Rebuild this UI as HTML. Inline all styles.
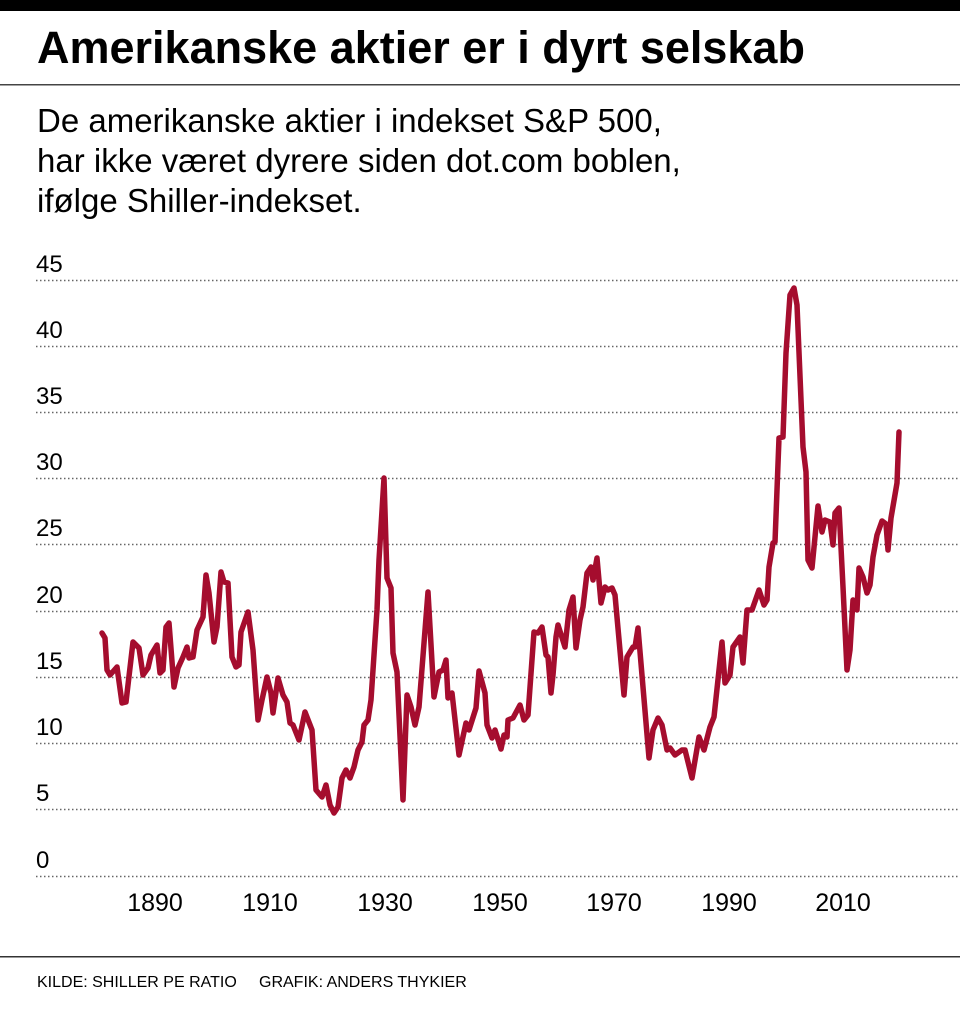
<!DOCTYPE html>
<html><head><meta charset="utf-8"><style>
body{margin:0;width:960px;height:1004px;background:#fff;overflow:hidden;font-family:"Liberation Sans",sans-serif}
</style></head><body>
<svg width="960" height="1004" xmlns="http://www.w3.org/2000/svg" font-family="Liberation Sans, sans-serif">
<rect x="0" y="0" width="960" height="11" fill="#000"/>
<text x="37" y="63" font-size="45" font-weight="bold" fill="#000">Amerikanske aktier er i dyrt selskab</text>
<rect x="0" y="84" width="960" height="1.5" fill="#444"/>
<g font-size="33" fill="#000">
<text x="37" y="132">De amerikanske aktier i indekset S&amp;P 500,</text>
<text x="37" y="172">har ikke været dyrere siden dot.com boblen,</text>
<text x="37" y="212">ifølge Shiller-indekset.</text>
</g>
<g stroke="#666" stroke-width="1.5" stroke-dasharray="1.5 2.5">
<line x1="36" x2="960" y1="280.5" y2="280.5"/>
<line x1="36" x2="960" y1="346.5" y2="346.5"/>
<line x1="36" x2="960" y1="412.5" y2="412.5"/>
<line x1="36" x2="960" y1="478.5" y2="478.5"/>
<line x1="36" x2="960" y1="544.5" y2="544.5"/>
<line x1="36" x2="960" y1="611.5" y2="611.5"/>
<line x1="36" x2="960" y1="677.5" y2="677.5"/>
<line x1="36" x2="960" y1="743.5" y2="743.5"/>
<line x1="36" x2="960" y1="809.5" y2="809.5"/>
<line x1="36" x2="960" y1="876.5" y2="876.5"/>
</g>
<g font-size="24" fill="#000">
<text x="36" y="272">45</text><text x="36" y="338">40</text><text x="36" y="404">35</text>
<text x="36" y="470">30</text><text x="36" y="536">25</text><text x="36" y="603">20</text>
<text x="36" y="669">15</text><text x="36" y="735">10</text><text x="36" y="801">5</text>
<text x="36" y="868">0</text>
</g>
<g font-size="25" fill="#000" text-anchor="middle">
<text x="155" y="911">1890</text><text x="270" y="911">1910</text><text x="385" y="911">1930</text>
<text x="500" y="911">1950</text><text x="614" y="911">1970</text><text x="729" y="911">1990</text>
<text x="843" y="911">2010</text>
</g>
<polyline fill="none" stroke="#a50d2e" stroke-width="5.5" stroke-linejoin="round" stroke-linecap="round" points="
102,633 105,638 107,670 110,675 117,667 122,703 126,702 133,642 139,648 143,675 148,668 151,655 157,645 160,673 163,670 166,627 169,623 174,687 178,668 183,657 187,647 189,658 193,657 197,630 203,617 206,575 209,593 214,642 217,627 221,572 224,582 228,583 232,657 236,667 239,665 241,632 248,612 253,650 258,720 262,700 267,677 271,693 273,713 278,678 283,695 287,702 290,723 293,725 297,735 299,740 305,712 312,730 316,790 322,797 326,785 330,805 334,813 338,807 342,778 346,770 350,778 354,767 358,750 362,742 364,725 368,720 371,700 377,610 379,560 384,478 387,578 391,588 393,653 397,672 403,800 407,695 411,707 415,725 419,707 428,592 434,697 439,672 443,670 446,660 448,698 452,693 459,755 466,723 469,730 476,708 479,671 485,693 487,725 492,738 495,730 501,749 504,735 507,737 508,720 513,718 520,705 524,720 528,715 534,632 538,633 542,627 546,655 548,657 551,693 553,675 556,637 558,625 565,647 569,610 573,597 576,648 580,620 583,607 587,573 591,567 593,580 597,558 601,603 605,587 608,590 612,588 615,595 624,695 627,657 633,647 635,647 638,628 649,758 653,730 658,718 662,725 667,750 670,748 675,755 682,750 685,750 692,778 699,737 704,750 710,727 714,717 722,642 725,683 730,675 733,647 740,637 743,663 747,610 752,610 759,590 764,605 767,600 769,567 773,543 775,542 779,438 783,437 786,353 790,295 794,288 797,305 803,447 806,472 808,560 812,568 818,506 822,532 825,520 830,522 833,545 835,513 839,508 843,587 847,670 850,650 853,600 857,610 859,568 863,577 867,593 870,585 873,557 877,535 882,521 886,524 888,550 891,518 897,483 899,432"/>
<rect x="0" y="956" width="960" height="1.5" fill="#333"/>
<text x="37" y="987" font-size="16" fill="#000">KILDE: SHILLER PE RATIO</text>
<text x="259" y="987" font-size="16" fill="#000">GRAFIK: ANDERS THYKIER</text>
</svg>
</body></html>
